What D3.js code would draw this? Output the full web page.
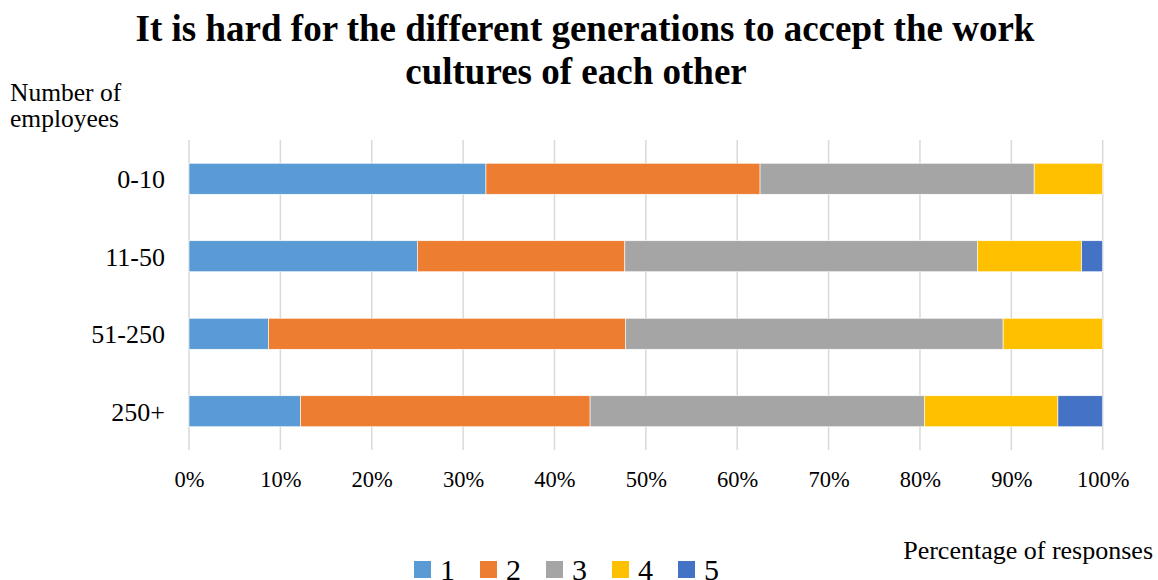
<!DOCTYPE html>
<html>
<head>
<meta charset="utf-8">
<script src="https://cdn.jsdelivr.net/npm/d3@7"></script>
<style>
  html, body { margin: 0; padding: 0; background: #fff; }
  svg { display: block; font-family: "Liberation Serif", "Times New Roman", serif; }
</style>
</head>
<body>
<svg id="chart" width="1158" height="580"></svg>
<script>
// Company size groups (top to bottom)
const categories = ["0-10", "11-50", "51-250", "250+"];
// Response levels on the 1-5 agreement scale
const seriesNames = ["1", "2", "3", "4", "5"];
// Share of responses (%) per response level, one entry per company size group
const level1 = [32.5, 25.0, 8.7, 12.2];
const level2 = [30.0, 22.7, 39.1, 31.7];
const level3 = [30.0, 38.6, 41.3, 36.6];
const level4 = [7.5, 11.4, 10.9, 14.6];
const level5 = [0.0, 2.3, 0.0, 4.9];
const xTickValues = [0, 10, 20, 30, 40, 50, 60, 70, 80, 90, 100];
const colors = ["#5B9BD5", "#ED7D31", "#A5A5A5", "#FFC000", "#4472C4"];

const rows = categories.map((c, i) => ({
  category: c,
  "1": level1[i], "2": level2[i], "3": level3[i], "4": level4[i], "5": level5[i]
}));

const svg = d3.select("#chart");
const plot = { left: 189, right: 1102.7, top: 140, bottom: 450 };

const x = d3.scaleLinear().domain([0, 100]).range([plot.left, plot.right]);
const y = d3.scaleBand().domain(categories).range([plot.top, plot.bottom])
  .paddingInner(0.6).paddingOuter(0.3);
const color = d3.scaleOrdinal().domain(seriesNames).range(colors);

// Title
const title = svg.append("g").attr("font-weight", "bold").attr("font-size", 37)
  .attr("text-anchor", "middle").attr("fill", "#000");
title.append("text").attr("x", 585).attr("y", 41)
  .text("It is hard for the different generations to accept the work");
title.append("text").attr("x", 576).attr("y", 84)
  .text("cultures of each other");

// Vertical gridlines
svg.append("g")
  .selectAll("line")
  .data(xTickValues)
  .join("line")
  .attr("x1", d => x(d)).attr("x2", d => x(d))
  .attr("y1", plot.top).attr("y2", plot.bottom)
  .attr("stroke", "#D9D9D9").attr("stroke-width", 1.5);

// Stacked bars
const stacked = d3.stack().keys(seriesNames)(rows);
svg.append("g")
  .selectAll("g")
  .data(stacked)
  .join("g")
  .attr("fill", d => color(d.key))
  .selectAll("rect")
  .data(d => d.filter(s => s[1] - s[0] > 0))
  .join("rect")
  .attr("x", d => x(d[0]))
  .attr("width", d => x(d[1]) - x(d[0]))
  .attr("y", d => y(d.data.category))
  .attr("height", y.bandwidth())
  .attr("stroke", "#fff").attr("stroke-width", 0.6);

// X axis (labels only)
const xAxis = d3.axisBottom(x).tickValues(xTickValues)
  .tickFormat(d => d + "%").tickSize(0).tickPadding(0);
const gx = svg.append("g").attr("transform", `translate(0,${plot.bottom})`).call(xAxis);
gx.select(".domain").remove();
gx.selectAll("text").attr("font-family", "Liberation Serif, Times New Roman, serif")
  .attr("font-size", 22.5).attr("fill", "#000").attr("dy", 0).attr("y", 37);

// Y axis (labels only)
const yAxis = d3.axisLeft(y).tickSize(0).tickPadding(0);
const gy = svg.append("g").attr("transform", `translate(165,0)`).call(yAxis);
gy.select(".domain").remove();
gy.selectAll("text").attr("font-family", "Liberation Serif, Times New Roman, serif")
  .attr("font-size", 26).attr("fill", "#000").attr("dy", "0.36em");

// Axis titles
const yTitle = svg.append("text").attr("font-size", 25.5).attr("fill", "#000");
yTitle.append("tspan").attr("x", 10).attr("y", 101).text("Number of");
yTitle.append("tspan").attr("x", 10).attr("y", 127).text("employees");

svg.append("text").attr("x", 1153).attr("y", 559).attr("text-anchor", "end")
  .attr("font-size", 26).attr("fill", "#000").text("Percentage of responses");

// Legend
const legend = svg.append("g")
  .selectAll("g")
  .data(seriesNames)
  .join("g")
  .attr("transform", (d, i) => `translate(${414 + i * 66},561)`);
legend.append("rect").attr("width", 17).attr("height", 17).attr("fill", d => color(d));
legend.append("text").attr("x", 26).attr("y", 18.5).attr("dy", 0)
  .attr("font-size", 30).attr("fill", "#000").text(d => d);
</script>
</body>
</html>
